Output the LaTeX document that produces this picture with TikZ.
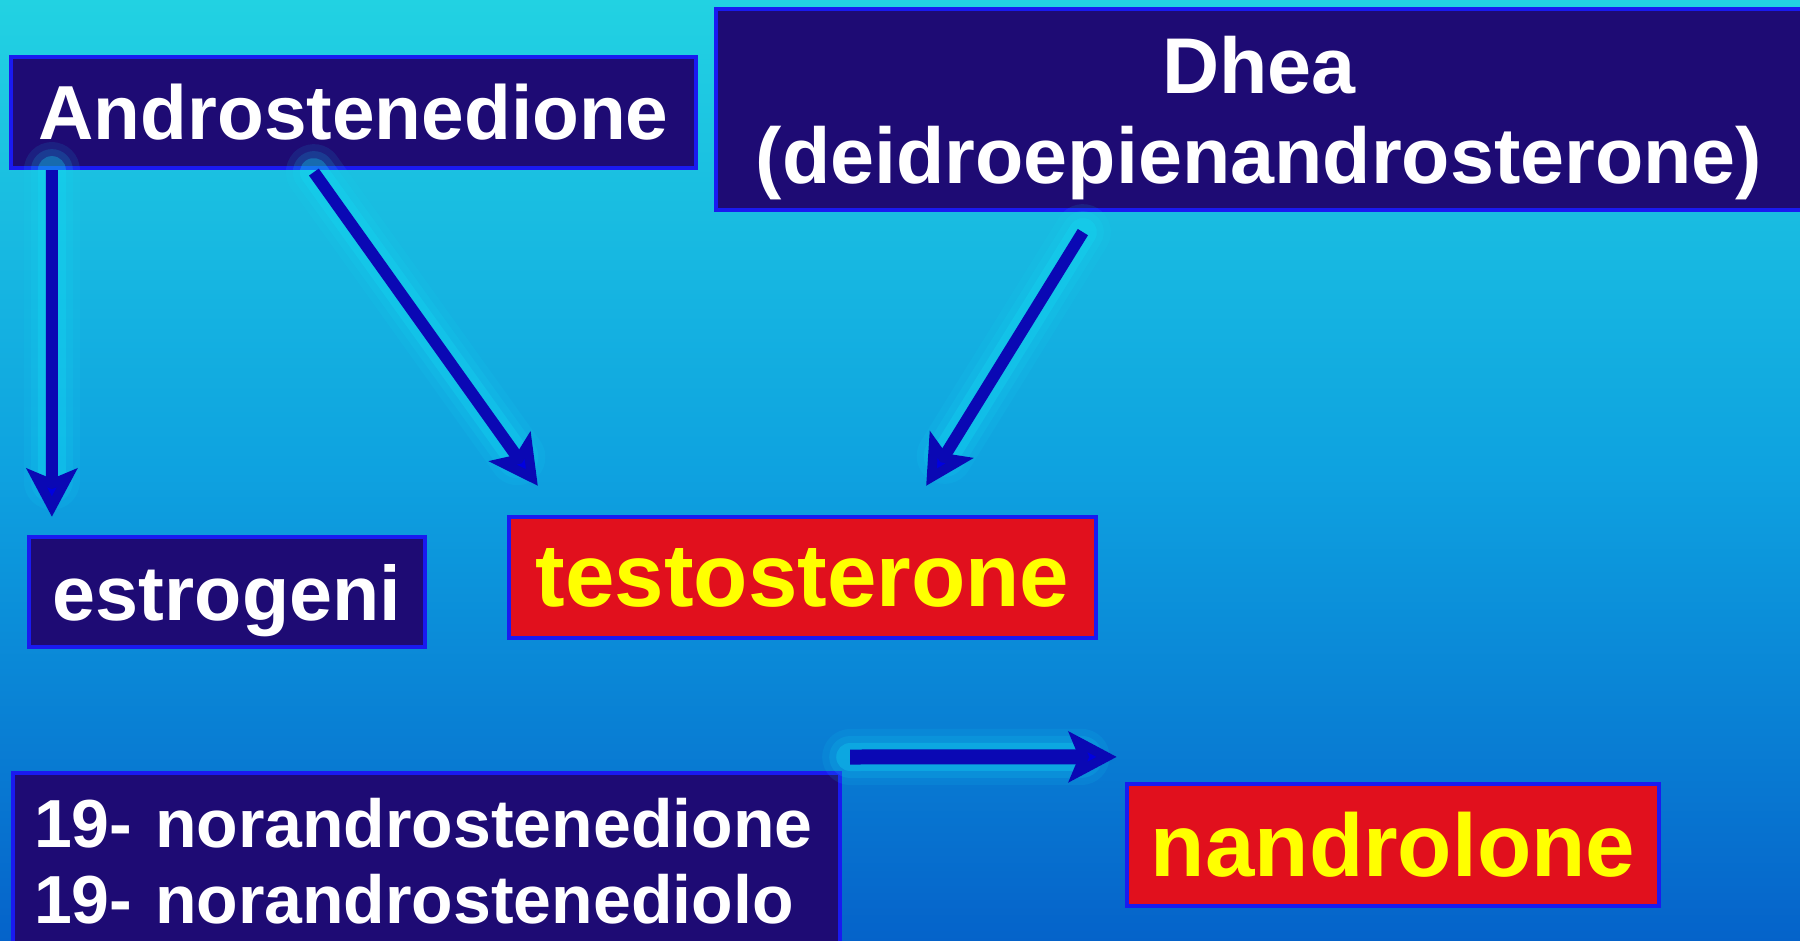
\documentclass[tikz,border=0pt]{standalone}
\usepackage{fontspec}
\setmainfont{Liberation Sans}
\usetikzlibrary{arrows.meta,positioning,calc}
\definecolor{bgtop}{HTML}{22D2E2}
\definecolor{bgmid}{HTML}{0EA2E0}
\definecolor{bgbot}{HTML}{0563CA}
\definecolor{navy}{HTML}{1E0B74}
\definecolor{edgeblue}{HTML}{1A1AF0}
\definecolor{alarmred}{HTML}{E1101D}
\definecolor{signyellow}{HTML}{FFFF00}
\definecolor{shaftblue}{HTML}{0A08B4}
\definecolor{tipblue}{HTML}{0000E0}
\definecolor{glowcyan}{HTML}{12DAF4}
\tikzset{
  navycard/.style={
    draw=edgeblue, fill=navy, line width=1.2pt, text=white,
    inner sep=0pt, align=center
  },
  redcard/.style={
    draw=edgeblue, fill=alarmred, line width=1.2pt, text=signyellow,
    inner sep=0pt, align=center,
    font=\bfseries\fontsize{25.3}{30}\selectfont
  },
  flowarrow/.style={
    draw=shaftblue, line width=0.12cm,
    -{Stealth[length=0.48cm, width=0.5cm, inset=0.1cm, fill=tipblue]},
    preaction={draw=glowcyan, line width=0.56cm, opacity=0.10, line cap=round},
    preaction={draw=glowcyan, line width=0.42cm, opacity=0.15, line cap=round},
    preaction={draw=glowcyan, line width=0.28cm, opacity=0.30, line cap=round}
  }
}

\begin{document}
\begin{tikzpicture}[x=1cm,y=-1cm,>=Stealth]
  \useasboundingbox (0,0) rectangle (18,9.41);
  \fill[top color=bgtop, bottom color=bgbot, middle color=bgmid] (0,0) rectangle (18,9.41);

  \node[navycard, minimum width=6.85cm, minimum height=1.11cm,
    font=\bfseries\fontsize{21.8}{26}\selectfont] (andro) at (3.535,1.125) {Androstenedione};
  \node[navycard, minimum width=10.86cm, minimum height=2.01cm, text depth=0pt,
    font=\bfseries\fontsize{22.5}{25.6}\selectfont] (dhea) at (12.59,1.095)
    {Dhea\\(deidroepienandrosterone)};
  \node[navycard, minimum width=3.96cm, minimum height=1.10cm, text depth=0pt,
    font=\bfseries\fontsize{22}{26}\selectfont] (estro) at (2.27,5.92) {estrogeni};
  \node[redcard, minimum width=5.87cm, minimum height=1.21cm] (testo) at (8.025,5.775) {testosterone};
  \node[navycard, anchor=north west, minimum width=8.27cm, minimum height=1.77cm,
    inner xsep=0.21cm, text width=7.85cm, align=left,
    font=\bfseries\fontsize{19.35}{21.6}\selectfont] (nor) at (0.11,7.71)
    {19- norandrostenedione\\19- norandrostenediolo};
  \node[redcard, minimum width=5.32cm, minimum height=1.22cm] (nandro) at (13.93,8.45) {nandrolone};

  % conversion arrows
  \draw[flowarrow] ($(andro.south west)+(0.43,0)$) -- ($(estro.north west)+(0.25,-0.18)$);
  \draw[flowarrow] ($(andro.south west)+(3.05,0.02)$) -- ($(testo.north west)+(0.31,-0.29)$);
  \draw[flowarrow] ($(dhea.south west)+(3.69,0.20)$) -- ($(testo.north east)+(-1.72,-0.29)$);
  \draw[flowarrow, line width=0.15cm] ($(nor.north east)+(0.08,-0.14)$) -- ($(nandro.north west)+(-0.08,-0.25)$);
\end{tikzpicture}
\end{document}
